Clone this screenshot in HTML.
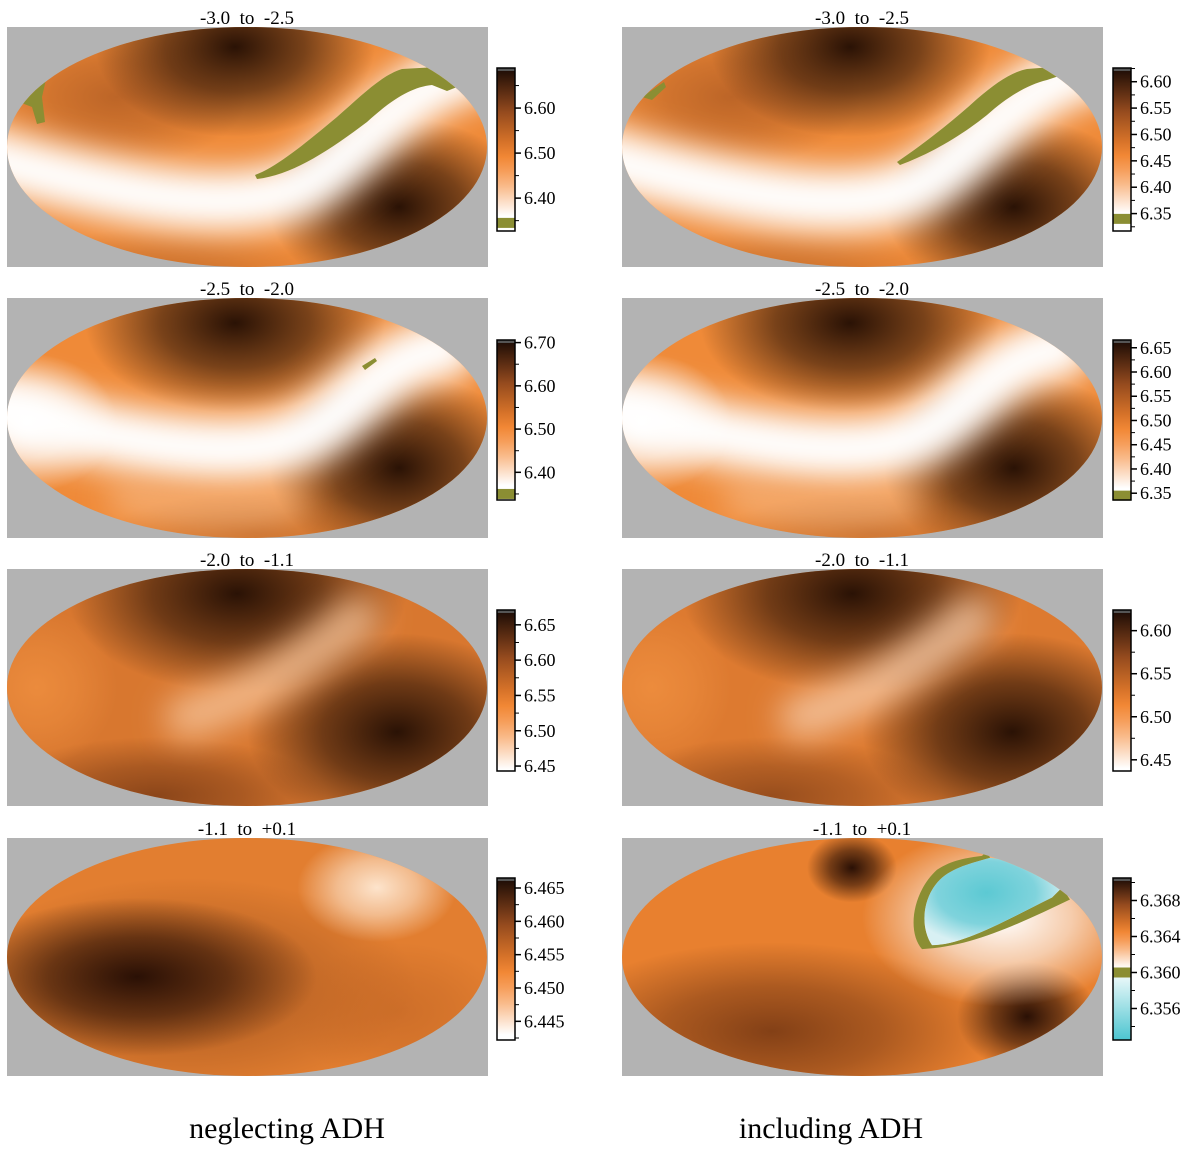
<!DOCTYPE html>
<html><head><meta charset="utf-8">
<style>
html,body{margin:0;padding:0;background:#fff;}
svg{display:block;font-family:"Liberation Serif",serif;}
</style></head>
<body>
<svg id="fig" width="1200" height="1150" viewBox="0 0 1200 1150" xmlns="http://www.w3.org/2000/svg">
<defs>
  <filter id="blurL" filterUnits="userSpaceOnUse" x="-300" y="-300" width="1100" height="900"><feGaussianBlur stdDeviation="16"/></filter>
  <filter id="blurS" filterUnits="userSpaceOnUse" x="-300" y="-300" width="1100" height="900"><feGaussianBlur stdDeviation="6"/></filter>
</defs>
<text x="287" y="1138" font-size="30" text-anchor="middle">neglecting ADH</text>
<text x="831" y="1138" font-size="30" text-anchor="middle">including ADH</text>
</svg>
<script>
// ---- data ----
const panelTitles = ["-3.0  to  -2.5","-3.0  to  -2.5","-2.5  to  -2.0","-2.5  to  -2.0","-2.0  to  -1.1","-2.0  to  -1.1","-1.1  to  +0.1","-1.1  to  +0.1"];
const cbMin = [6.327,6.317,6.336,6.336,6.443,6.437,6.4422,6.3525];
const cbMax = [6.689,6.626,6.706,6.666,6.671,6.624,6.4665,6.3705];
const cbTicks = [
 [6.60,6.50,6.40],
 [6.60,6.55,6.50,6.45,6.40,6.35],
 [6.70,6.60,6.50,6.40],
 [6.65,6.60,6.55,6.50,6.45,6.40,6.35],
 [6.65,6.60,6.55,6.50,6.45],
 [6.60,6.55,6.50,6.45],
 [6.465,6.460,6.455,6.450,6.445],
 [6.368,6.364,6.360,6.356]
];
const tickLabels = [
 ["6.60","6.50","6.40"],
 ["6.60","6.55","6.50","6.45","6.40","6.35"],
 ["6.70","6.60","6.50","6.40"],
 ["6.65","6.60","6.55","6.50","6.45","6.40","6.35"],
 ["6.65","6.60","6.55","6.50","6.45"],
 ["6.60","6.55","6.50","6.45"],
 ["6.465","6.460","6.455","6.450","6.445"],
 ["6.368","6.364","6.360","6.356"]
];
const oliveLevel = [6.345,6.340,6.350,6.345,null,null,null,6.360];
const whiteLevel = [6.36,6.35,6.37,6.36,6.445,6.44,6.443,6.3605];
// ---- layout ----
const svg=document.getElementById('fig');
const NS="http://www.w3.org/2000/svg";
function el(tag,attrs,parent){const e=document.createElementNS(NS,tag);for(const k in attrs)e.setAttribute(k,attrs[k]);(parent||svg).appendChild(e);return e;}
const defs=svg.querySelector('defs');
const colX=[7,622], rowY=[27,298,569,838], rowH=[240,240,237,238];
const cbX=[497,1113], cbTop=[68,340,610,878], cbBot=[231,500,771,1040];

function blob(g,id,cx,cy,rx,ry,color,op){
  const rg=el('radialGradient',{id:id},defs);
  el('stop',{offset:'0','stop-color':color,'stop-opacity':op},rg);
  el('stop',{offset:'0.5','stop-color':color,'stop-opacity':op*0.6},rg);
  el('stop',{offset:'1','stop-color':color,'stop-opacity':0},rg);
  return el('ellipse',{cx:cx,cy:cy,rx:rx,ry:ry,fill:'url(#'+id+')'},g);
}
function band(g,d,w,color,op,f){return el('path',{d:d,fill:'none',stroke:color,'stroke-width':w,'stroke-opacity':op,'stroke-linecap':'round',filter:'url(#'+(f||'blurL')+')'},g);}

const specs=[
 g=>{ // P1L
  el('rect',{x:0,y:0,width:480,height:240,fill:'#ef8a38'},g);
  blob(g,'a1',110,70,130,70,'#9a4c1c',0.6);
  blob(g,'a2',228,20,140,90,'#2a1205',1);
  blob(g,'a3',392,180,130,90,'#2a1205',1);
  blob(g,'a4',160,245,150,45,'#a85820',0.5);
  band(g,'M -40 125 C 100 165, 200 185, 270 168 S 370 70, 470 40',60,'#ffffff',1);
  el('path',{d:'M248 148 C 270 140, 300 115, 330 90 C 355 68, 375 48, 395 42 L 430 40 L 455 58 L 440 64 L 425 58 C 405 60, 385 72, 360 95 C 320 125, 285 148, 250 152 Z',fill:'#8b8e33'},g);
  el('path',{d:'M18 55 L 40 48 L 35 70 L 38 95 L 30 97 L 25 80 L 12 75 Z',fill:'#8b8e33'},g);
 },
 g=>{ // P1R
  el('rect',{x:0,y:0,width:480,height:240,fill:'#ef8a38'},g);
  blob(g,'b1',110,70,130,70,'#9a4c1c',0.6);
  blob(g,'b2',228,20,140,90,'#2a1205',1);
  blob(g,'b3',392,180,130,90,'#2a1205',1);
  blob(g,'b4',160,245,150,45,'#a85820',0.5);
  band(g,'M -40 125 C 100 165, 200 185, 270 168 S 370 70, 470 40',62,'#ffffff',1);
  el('path',{d:'M275 135 C 300 118, 330 95, 355 72 C 375 55, 390 45, 405 42 L 430 40 L 440 48 L 425 53 C 405 58, 385 70, 365 88 C 335 112, 305 128, 278 138 Z',fill:'#8b8e33'},g);
  el('path',{d:'M20 70 L 42 55 L 44 60 L 30 73 Z',fill:'#8b8e33'},g);
 },
 g=>{ // P2L
  el('rect',{x:0,y:0,width:480,height:240,fill:'#ef8a38'},g);
  blob(g,'c1',228,25,150,90,'#2a1205',1);
  blob(g,'c2',392,170,130,95,'#2a1205',1);
  blob(g,'c3',250,235,150,40,'#a85820',0.5);
  band(g,'M -30 105 C 60 130, 180 160, 260 148 S 360 60, 440 50',62,'#ffffff',1);
  blob(g,'c4',20,125,90,70,'#ffffff',1);
  band(g,'M 110 200 C 180 215, 230 215, 290 205',16,'#fbd8b8',0.8);
  el('path',{d:'M355 68 L 368 60 L 370 63 L 358 72 Z',fill:'#8b8e33'},g);
 },
 g=>{ // P2R
  el('rect',{x:0,y:0,width:480,height:240,fill:'#ef8a38'},g);
  blob(g,'d1',228,25,150,90,'#2a1205',1);
  blob(g,'d2',392,170,130,95,'#2a1205',1);
  blob(g,'d3',250,235,150,40,'#a85820',0.5);
  band(g,'M -30 105 C 60 130, 180 160, 260 148 S 360 60, 440 50',62,'#ffffff',1);
  blob(g,'d4',20,125,90,70,'#ffffff',1);
  band(g,'M 110 200 C 180 215, 230 215, 290 205',16,'#fbd8b8',0.8);
 },
 g=>{ // P3L
  el('rect',{x:0,y:0,width:480,height:240,fill:'#d8772f'},g);
  blob(g,'e1',230,25,170,100,'#2a1205',1);
  blob(g,'e2',390,165,150,100,'#2a1205',1);
  blob(g,'e3',150,230,170,60,'#6a3010',0.7);
  blob(g,'e4',30,120,80,80,'#f09040',0.8);
  band(g,'M 180 150 C 250 130, 300 90, 350 50',45,'#f8c8a0',0.75);
 },
 g=>{ // P3R
  el('rect',{x:0,y:0,width:480,height:240,fill:'#dd7a30'},g);
  blob(g,'f1',230,25,170,100,'#2a1205',1);
  blob(g,'f2',390,165,150,100,'#2a1205',1);
  blob(g,'f3',150,230,170,60,'#6a3010',0.6);
  blob(g,'f4',30,120,80,80,'#f09040',0.8);
  band(g,'M 180 150 C 250 130, 300 90, 350 50',45,'#f8d0b0',0.75);
 },
 g=>{ // P4L
  el('rect',{x:0,y:0,width:480,height:240,fill:'#e27e30'},g);
  blob(g,'g0',180,150,230,110,'#8a4418',0.6);
  blob(g,'g1',130,140,180,80,'#2a1005',1);
  blob(g,'g2',370,50,80,55,'#fde4cc',1);
  blob(g,'g3',390,175,110,70,'#c06424',0.6);
 },
 g=>{ // P4R
  el('rect',{x:0,y:0,width:480,height:240,fill:'#e8802f'},g);
  blob(g,'h1',150,195,220,90,'#6a3010',0.8);
  blob(g,'h2',230,30,45,35,'#2a1005',1);
  blob(g,'h3',405,180,70,55,'#2a1005',1);
  blob(g,'h4',380,80,140,90,'#ffffff',1);
  el('path',{d:'M300 112 C 285 95, 290 55, 315 32 C 330 22, 345 20, 360 18 L 365 13 L 368 20 C 350 25, 330 30, 318 42 C 300 60, 298 90, 310 108 C 340 108, 380 85, 430 60 L 440 50 L 448 62 C 400 85, 350 110, 300 112 Z',fill:'#8b8e33'},g);
  const cg=el('radialGradient',{id:'cy1',cx:'0.45',cy:'0.4',r:'0.6'},defs);
  el('stop',{offset:'0','stop-color':'#5cc9d3'},cg);el('stop',{offset:'0.6','stop-color':'#7fd3dc'},cg);el('stop',{offset:'1','stop-color':'#d8f0f3'},cg);
  el('path',{d:'M310 108 C 298 90, 300 60, 318 42 C 330 30, 350 25, 368 20 C 395 22, 420 35, 440 50 L 430 60 C 380 85, 340 108, 310 108 Z',fill:'url(#cy1)'},g);
 }
];

function cmap(f){ // f 0 bottom -> 1 top
  const s=[[0,[255,255,255]],[0.25,[248,170,110]],[0.42,[240,130,45]],[0.7,[150,75,30]],[1,[25,10,5]]];
  for(let i=1;i<s.length;i++) if(f<=s[i][0]){const t=(f-s[i-1][0])/(s[i][0]-s[i-1][0]);const a=s[i-1][1],b=s[i][1];return 'rgb('+a.map((v,k)=>Math.round(v+(b[k]-v)*t)).join(',')+')';}
  return 'rgb(25,10,5)';
}

for(let p=0;p<8;p++){
  const c=p%2,r=Math.floor(p/2);
  const x0=colX[c],y0=rowY[r],h=rowH[r];
  const pg=el('g',{transform:'translate('+x0+','+y0+')'});
  
  
  el('rect',{x:0,y:0,width:481,height:h,fill:'#b3b3b3'},pg);
  const cp=el('clipPath',{id:'clip'+p},defs);
  el('ellipse',{cx:240,cy:h/2,rx:240,ry:h/2},cp);
  const inner=el('g',{'clip-path':'url(#clip'+p+')'},pg);
  const sc=el('g',{transform:'scale(1,'+(h/240)+')'},inner);
  specs[p](sc);
  const t=el('text',{x:x0+240,y:y0-3,'font-size':19,'text-anchor':'middle','xml:space':'preserve',style:'white-space:pre'});
  t.textContent=panelTitles[p];
  
  
  // colorbar
  const top=cbTop[r],bot=cbBot[r],bx=cbX[c],bw=18;
  const vmin=cbMin[p],vmax=cbMax[p];
  const yOf=v=>bot-(v-vmin)/(vmax-vmin)*(bot-top);
  const gid='cbg'+p;
  const lg=el('linearGradient',{id:gid,x1:0,y1:1,x2:0,y2:0},defs);
  const wl=(whiteLevel[p]-vmin)/(vmax-vmin);
  el('stop',{offset:0,'stop-color':'#ffffff'},lg);
  for(let i=0;i<=10;i++){const f=i/10;el('stop',{offset:(wl+(1-wl)*f).toFixed(3),'stop-color':cmap(f)},lg);}
  const cbg=el('g',{});
  
  
  el('rect',{x:bx,y:top,width:bw,height:bot-top,fill:'url(#'+gid+')'},cbg);
  if(p===7){
    const cl=el('linearGradient',{id:'cyb',x1:0,y1:1,x2:0,y2:0},defs);
    el('stop',{offset:0,'stop-color':'#4cc5d0'},cl);el('stop',{offset:1,'stop-color':'#ffffff'},cl);
    el('rect',{x:bx,y:yOf(whiteLevel[p]),width:bw,height:bot-yOf(whiteLevel[p]),fill:'url(#cyb)'},cbg);
  }
  if(oliveLevel[p]!==null){
    el('rect',{x:bx,y:yOf(oliveLevel[p])-5,width:bw,height:10,fill:'#8b8e33'},cbg);
  }
  el('rect',{x:bx,y:top,width:bw,height:3,fill:'#555'},cbg);
  el('rect',{x:bx,y:top,width:bw,height:bot-top,fill:'none',stroke:'#000','stroke-width':1.5},cbg);
  const step=cbTicks[p].length>1?(cbTicks[p][0]-cbTicks[p][1]):0;
  cbTicks[p].forEach((v,i)=>{
    const y=yOf(v);
    el('line',{x1:bx+bw,x2:bx+bw+6,y1:y,y2:y,stroke:'#000','stroke-width':1.5},cbg);
    const tt=el('text',{x:bx+bw+9,y:y+6,'font-size':18},cbg);
    tt.textContent=tickLabels[p][i];
    
    
    const mv=v-step/2;
    if(mv>vmin){const my=yOf(mv);el('line',{x1:bx+bw,x2:bx+bw+4,y1:my,y2:my,stroke:'#000','stroke-width':1},cbg);}
    const mv2=v+step/2;
    if(i===0&&mv2<vmax){const my=yOf(mv2);el('line',{x1:bx+bw,x2:bx+bw+4,y1:my,y2:my,stroke:'#000','stroke-width':1},cbg);}
  });
}
</script>
</body></html>
